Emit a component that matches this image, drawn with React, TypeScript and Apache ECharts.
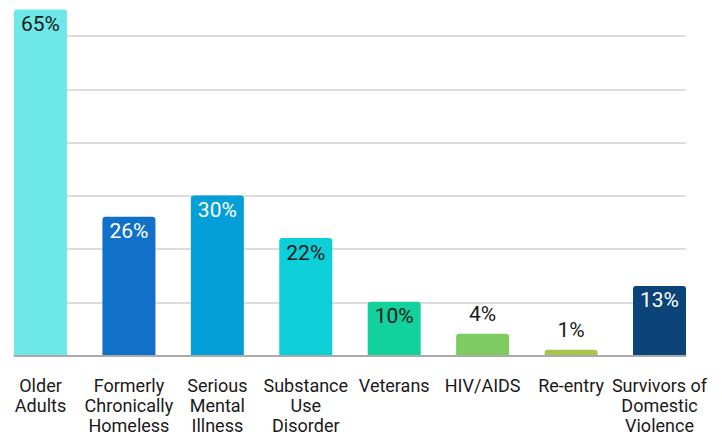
import React, { useEffect, useRef } from "react";
import * as echarts from "echarts";

const categories = [
  "Older\nAdults",
  "Formerly\nChronically\nHomeless",
  "Serious\nMental\nIllness",
  "Substance\nUse\nDisorder",
  "Veterans",
  "HIV/AIDS",
  "Re-entry",
  "Survivors of\nDomestic\nViolence",
];
const values = [65, 26, 30, 22, 10, 4, 1, 13];
const barColors = ["#6ee7e9", "#1170c8", "#049fd8", "#0ccfd8", "#12d19c", "#7ecb62", "#a9c44a", "#0c4479"];
const labelColors = ["#1a1a1a", "#fff", "#fff", "#1a1a1a", "#1a1a1a", "#1a1a1a", "#1a1a1a", "#fff"];
const labelInside = [true, true, true, true, true, false, false, true];

export default function App() {
  const ref = useRef<HTMLDivElement>(null);
  useEffect(() => {
    document.body.style.margin = "0";
    const chart = echarts.init(ref.current!, null, { renderer: "svg" });
    const font = "Roboto, 'Noto Sans', sans-serif";
    chart.setOption({
      animation: false,
      grid: [
        { left: 40.5, right: 62.5, top: 9.4, bottom: 79.3 },
        { left: 14, right: 36, top: 36, bottom: 79.3 },
      ],
      xAxis: [
        {
          type: "category",
          gridIndex: 0,
          boundaryGap: false,
          data: categories,
          axisLine: { show: false },
          axisTick: { show: false },
          splitLine: { show: false },
          axisLabel: {
            interval: 0,
            margin: 20,
            fontSize: 18,
            lineHeight: 20,
            fontWeight: 400,
            color: "#1a1a1a",
            fontFamily: font,
          },
        },
        {
          type: "value",
          gridIndex: 1,
          min: 0,
          max: 1,
          axisLine: { show: true, lineStyle: { color: "#999", width: 1.5 } },
          axisTick: { show: false },
          axisLabel: { show: false },
          splitLine: { show: false },
        },
      ],
      yAxis: [
        {
          type: "value",
          gridIndex: 0,
          min: 0,
          max: 65,
          axisLine: { show: false },
          axisTick: { show: false },
          axisLabel: { show: false },
          splitLine: { show: false },
        },
        {
          type: "value",
          gridIndex: 1,
          min: 0,
          max: 60,
          interval: 10,
          axisLine: { show: false },
          axisTick: { show: false },
          axisLabel: { show: false },
          splitLine: { show: true, lineStyle: { color: "#dddddd", width: 2 } },
        },
      ],
      series: [
        {
          type: "bar",
          xAxisIndex: 0,
          yAxisIndex: 0,
          barWidth: 53,
          clip: false,
          data: values.map((v, i) => ({
            value: v,
            itemStyle: { color: barColors[i], borderRadius: [3, 3, 0, 0] },
            label: {
              show: true,
              position: labelInside[i] ? "insideTop" : "top",
              distance: labelInside[i] ? 4 : 9,
              color: labelColors[i],
              fontSize: 21,
              fontWeight: 400,
              fontFamily: font,
              textBorderWidth: 0,
              textBorderColor: "transparent",
              formatter: "{c}%",
            },
          })),
        },
      ],
    });
    return () => chart.dispose();
  }, []);
  return <div ref={ref} style={{ width: 722, height: 435 }} />;
}
